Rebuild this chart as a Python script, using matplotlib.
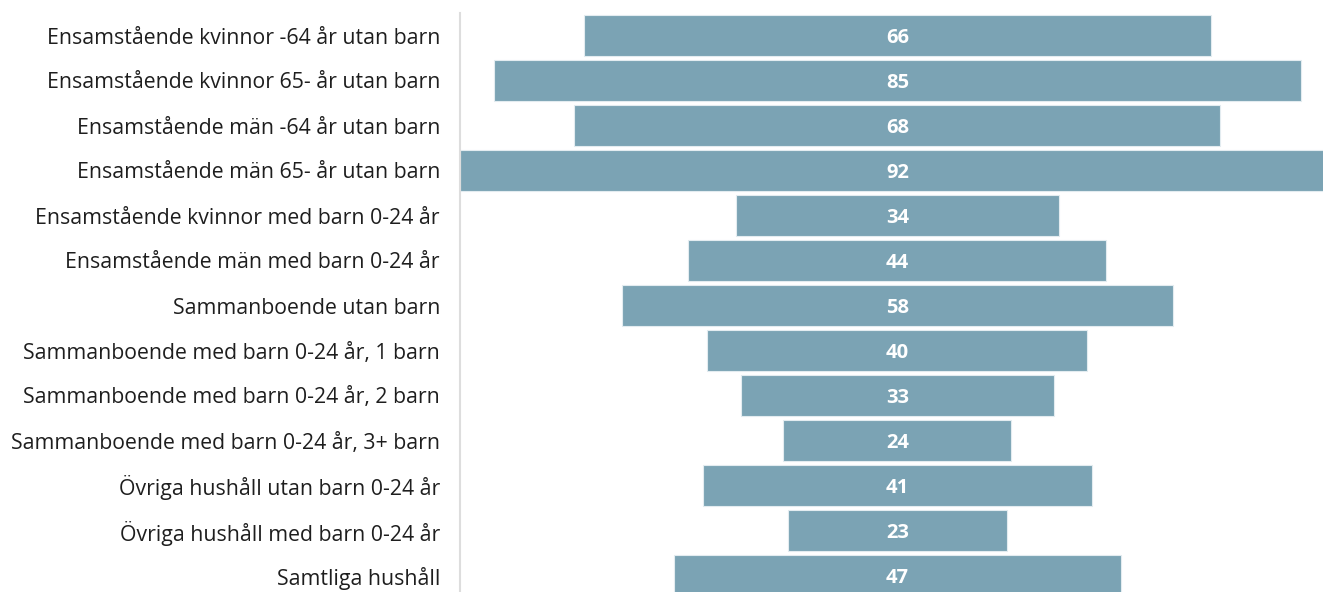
import matplotlib.pyplot as plt
import numpy as np

plt.rcParams["font.family"] = ["Open Sans", "DejaVu Sans"]

categories = [
    "Ensamstående kvinnor -64 år utan barn",
    "Ensamstående kvinnor 65- år utan barn",
    "Ensamstående män -64 år utan barn",
    "Ensamstående män 65- år utan barn",
    "Ensamstående kvinnor med barn 0-24 år",
    "Ensamstående män med barn 0-24 år",
    "Sammanboende utan barn",
    "Sammanboende med barn 0-24 år, 1 barn",
    "Sammanboende med barn 0-24 år, 2 barn",
    "Sammanboende med barn 0-24 år, 3+ barn",
    "Övriga hushåll utan barn 0-24 år",
    "Övriga hushåll med barn 0-24 år",
    "Samtliga hushåll",
]
values = [66, 85, 68, 92, 34, 44, 58, 40, 33, 24, 41, 23, 47]

W, H = 1323, 592
fig = plt.figure(figsize=(W / 100, H / 100), dpi=100)
# axes runs a little past the bottom edge so the last bar is cut off
ax = fig.add_axes([460 / W, (592 - 598) / H, 863 / W, 585 / H])

y = np.arange(len(values))
vals = np.array(values, dtype=float)
ax.barh(y, vals, left=-vals / 2, height=0.92, color="#7ba3b4",
        edgecolor="#e3ecf0", linewidth=0.8)

for yi, v in zip(y, values):
    ax.text(0, yi, str(v), ha="center", va="center_baseline", color="white",
            fontsize=14.5, fontweight="bold")

ax.set_xlim(-46.05, 44.79)
ax.set_ylim(len(values) - 0.5, -0.5)
ax.set_yticks(y)
ax.set_yticklabels(categories, fontsize=15.3, color="#1e1e1e")
ax.tick_params(axis="y", length=0, pad=14.4)
ax.set_xticks([])

for side in ["top", "right", "bottom"]:
    ax.spines[side].set_visible(False)
ax.spines["left"].set_color("#dddddd")
ax.spines["left"].set_linewidth(1.5)

fig.savefig("out.png", dpi=100)
